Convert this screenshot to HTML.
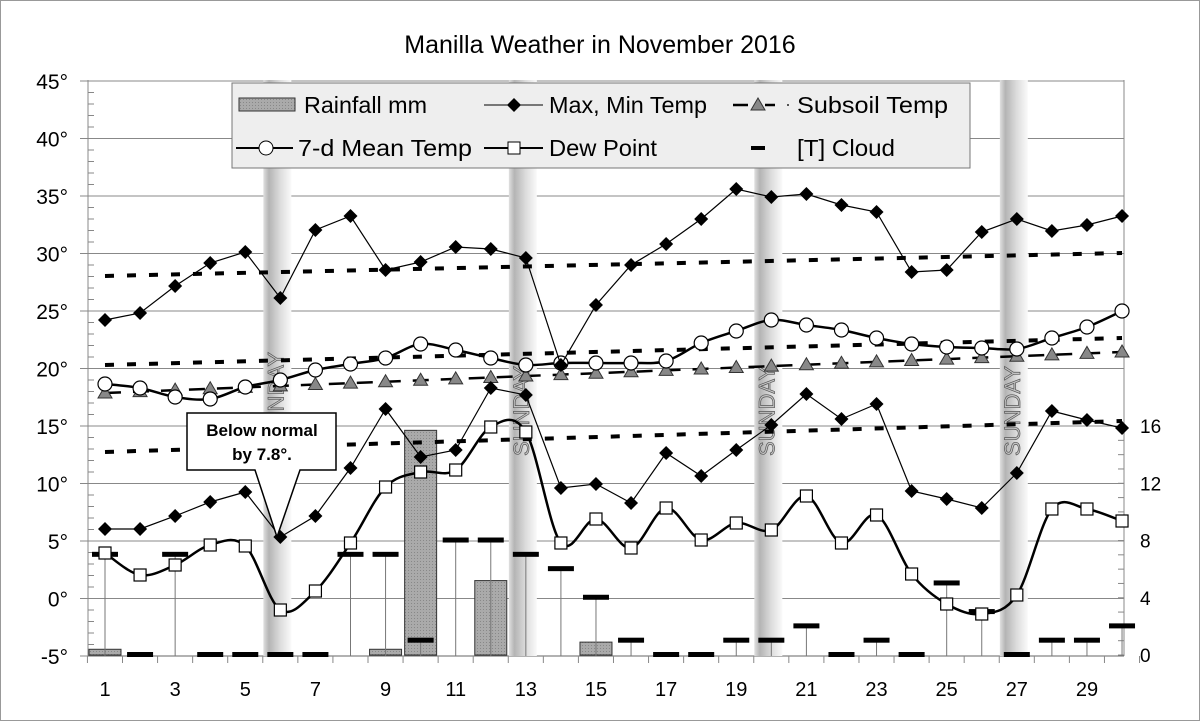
<!DOCTYPE html>
<html><head><meta charset="utf-8"><style>
body{margin:0;background:#fff}
svg{display:block;font-family:"Liberation Sans",Arial,sans-serif}
</style></head><body>
<svg id="c" width="1200" height="721" viewBox="0 0 1200 721" xmlns="http://www.w3.org/2000/svg">
<defs>
<linearGradient id="sun" x1="0" x2="1" y1="0" y2="0">
<stop offset="0" stop-color="#e0e0e0"/><stop offset="0.2" stop-color="#b4b4b4"/><stop offset="0.6" stop-color="#dcdcdc"/><stop offset="1" stop-color="#fafafa"/>
</linearGradient>
<pattern id="rain" width="3" height="3" patternUnits="userSpaceOnUse"><rect width="3" height="3" fill="#aaa"/><rect width="1" height="1" fill="#888"/></pattern>
</defs>
<rect x="0.5" y="0.5" width="1199" height="720" fill="#fff" stroke="#999"/>
<text x="600" y="53" font-size="25" text-anchor="middle">Manilla Weather in November 2016</text>
<g id="g"></g>
</svg>
<script>
const g=document.getElementById('g');const NS='http://www.w3.org/2000/svg';
function el(t,a,txt){const e=document.createElementNS(NS,t);for(const k in a)e.setAttribute(k,a[k]);if(txt!=null)e.textContent=txt;g.appendChild(e);return e;}
const X=d=>105+(d-1)*35.07, Y=v=>598.5-v*11.5, R=v=>655-v*14.31;
const L=88,Rt=1124,T=80,B=656;
for(let v=-5;v<=45;v+=5){el('line',{x1:80,x2:Rt,y1:Y(v),y2:Y(v),stroke:'#888','stroke-width':1});
 el('text',{x:68,y:Y(v)+8,'font-size':21,'text-anchor':'end'},v+'°');}
for(let v=-5;v<45;v++){el('line',{x1:L,x2:L+6,y1:Y(v),y2:Y(v),stroke:'#888'});}
for(let r=0;r<=16;r+=4){el('text',{x:1140,y:R(r)+7,'font-size':19},r);}
for(let r=0;r<=16;r+=1){el('line',{x1:Rt-6,x2:Rt,y1:R(r),y2:R(r),stroke:'#888'});}
el('line',{x1:L,x2:L,y1:T,y2:B,stroke:'#888'});el('line',{x1:Rt,x2:Rt,y1:T,y2:B,stroke:'#888'});
el('line',{x1:L,x2:Rt,y1:B,y2:B,stroke:'#666'});
for(let d=0;d<=30;d++){const x=X(d)+17.5;el('line',{x1:x,x2:x,y1:B,y2:B+7,stroke:'#888'});}
for(let d=1;d<=30;d+=2)el('text',{x:X(d),y:696,'font-size':20,'text-anchor':'middle'},d);
[6,13,20,27].forEach(d=>{const x=X(d);el('rect',{x:x-17,y:T,width:28,height:B-T,fill:'url(#sun)'});
 el('text',{transform:`translate(${x+3},${d==6?442:456}) rotate(-90)`,'font-size':22,fill:'#c4c4c4',stroke:'#555','stroke-width':0.7},'SUNDAY');});
[[1,0.4],[9,0.4],[10,15.7],[12,5.2],[15,0.9]].forEach(([d,v])=>el('rect',{x:X(d)-16,y:R(v),width:32,height:B-R(v)-1,fill:'url(#rain)',stroke:'#333'}));
const cl=[7,0,7,0,0,0,0,7,7,1,8,8,7,6,4,1,0,0,1,1,2,0,1,0,5,3,0,1,1,2];
cl.forEach((v,i)=>{const x=X(i+1);if(v>0)el('line',{x1:x,x2:x,y1:R(v),y2:B,stroke:'#777'});el('rect',{x:x-13,y:R(v)-3,width:26,height:5,fill:'#000'});});
function dline(a,b){el('line',{x1:X(1),x2:X(30),y1:a,y2:b,stroke:'#000','stroke-width':4,'stroke-dasharray':'9 13'});}
dline(276,253);dline(365,338);dline(452,421);
let sp=[];for(let d=1;d<=30;d++)sp.push([X(d),393-(d-1)*41/29]);
el('polyline',{points:sp.join(' '),fill:'none',stroke:'#000','stroke-width':2.5,'stroke-dasharray':'16 12'});
sp.forEach(([x,y])=>el('polygon',{points:`${x},${y-7} ${x-7},${y+5} ${x+7},${y+5}`,fill:'#888',stroke:'#333'}));
function smooth(p){let s=`M${p[0][0]},${p[0][1]}`;for(let i=0;i<p.length-1;i++){const p0=p[i-1]||p[i],p1=p[i],p2=p[i+1],p3=p[i+2]||p2;
 s+=` C${p1[0]+(p2[0]-p0[0])/6},${p1[1]+(p2[1]-p0[1])/6} ${p2[0]-(p3[0]-p1[0])/6},${p2[1]-(p3[1]-p1[1])/6} ${p2[0]},${p2[1]}`;}return s;}
const mn=[384,388,397,399,387,380,370,364,358,344,350,358,365,363,363,363,361,343,331,320,325,330,338,344,347,348,349,338,327,311].map((y,i)=>[X(i+1),y]);
el('path',{d:smooth(mn),fill:'none',stroke:'#000','stroke-width':2.5});
mn.forEach(([x,y])=>el('circle',{cx:x,cy:y,r:7,fill:'#fff',stroke:'#000','stroke-width':1.2}));
const dw=[553,575,565,545,546,610,591,543,487,472,470,427,432,543,519,548,508,540,523,530,496,543,515,574,604,614,595,509,509,521].map((y,i)=>[X(i+1),y]);
el('path',{d:smooth(dw),fill:'none',stroke:'#000','stroke-width':2.5});
dw.forEach(([x,y])=>el('rect',{x:x-6,y:y-6,width:12,height:12,fill:'#fff',stroke:'#000','stroke-width':1.2}));
const mx=[320,313,286,263,252,298,230,216,270,262,247,249,258,365,305,265,244,219,189,197,194,205,212,272,270,232,219,231,225,216];
const mi=[529,529,516,502,492,537,516,468,409,457,450,388,395,488,484,503,453,476,450,425,394,419,404,491,499,508,473,411,420,428];
[mx,mi].forEach(a=>{const p=a.map((y,i)=>[X(i+1),y]);el('polyline',{points:p.join(' '),fill:'none',stroke:'#000','stroke-width':1.2});
 p.forEach(([x,y])=>el('polygon',{points:`${x},${y-7} ${x+7},${y} ${x},${y+7} ${x-7},${y}`,fill:'#000'}));});
el('path',{d:'M187,413 H336 V470 H300 L277,537 L255,470 H187 Z',fill:'#fff',stroke:'#000','stroke-width':1.5});
el('text',{x:262,y:436,'font-size':17,'font-weight':'bold','text-anchor':'middle'},'Below normal');
el('text',{x:262,y:460,'font-size':17,'font-weight':'bold','text-anchor':'middle'},'by 7.8°.');
const LA={'font-size':23,lengthAdjust:'spacingAndGlyphs'};
function lt(x,y,w,s){el('text',Object.assign({x:x,y:y,textLength:w},LA),s);}
el('rect',{x:232,y:83,width:738,height:85,fill:'#eee',stroke:'#777'});
el('rect',{x:239,y:98,width:56,height:13,fill:'url(#rain)',stroke:'#333'});
lt(304,113,123,'Rainfall mm');
el('line',{x1:484,x2:543,y1:105,y2:105,stroke:'#000'});el('polygon',{points:'514,98 521,105 514,112 507,105'});
lt(549,113,158,'Max, Min Temp');
el('line',{x1:733,x2:748,y1:105,y2:105,stroke:'#000','stroke-width':2.5});el('line',{x1:765,x2:775,y1:105,y2:105,stroke:'#000','stroke-width':2.5});
el('polygon',{points:'758,98 751,110 765,110',fill:'#888',stroke:'#333'});
el('rect',{x:787,y:104,width:2,height:2,fill:'#555'});
lt(797,113,151,'Subsoil Temp');
el('line',{x1:236,x2:293,y1:148,y2:148,stroke:'#000','stroke-width':2});el('circle',{cx:266,cy:148,r:7,fill:'#fff',stroke:'#000'});
lt(298,156,174,'7-d Mean Temp');
el('line',{x1:484,x2:543,y1:148,y2:148,stroke:'#000','stroke-width':2});el('rect',{x:508,y:142,width:12,height:12,fill:'#fff',stroke:'#000'});
lt(549,156,108,'Dew Point');
el('rect',{x:751,y:146,width:14,height:4,fill:'#000'});
lt(797,156,98,'[T] Cloud');
</script>
</body></html>
